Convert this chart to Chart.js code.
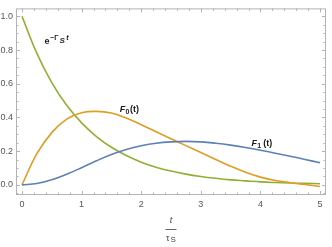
<!DOCTYPE html>
<html lang="en">
<head>
    <meta charset="UTF-8">
    <title>Decay curves</title>
    <script src="https://cdn.jsdelivr.net/npm/chart.js"></script>
    <style>
body {
    margin: 0;
    padding: 0;
    background: #ffffff;
}
.wrap {
    width: 332px;
    height: 247px;
}
    </style>
</head>
<body>
    <div class="wrap">
        <canvas id="decayPlot" width="332" height="247"></canvas>
    </div>
    <script>
        // values
        const tValues   = [0, 0.25, 0.5, 0.75, 1, 1.25, 1.5, 1.75, 2, 2.25, 2.5, 2.75, 3, 3.25, 3.5, 3.75, 4, 4.25, 4.5, 4.75, 5];
        const expDecay  = [1, 0.78, 0.607, 0.472, 0.368, 0.287, 0.223, 0.174, 0.135, 0.105, 0.082, 0.064, 0.05, 0.039, 0.03, 0.024, 0.018, 0.014, 0.011, 0.009, 0.007];
        const f0Values  = [0, 0.185, 0.31, 0.39, 0.428, 0.436, 0.426, 0.397, 0.357, 0.315, 0.274, 0.233, 0.192, 0.151, 0.111, 0.075, 0.046, 0.026, 0.013, 0.002, -0.01];
        const f1Values  = [0, 0.008, 0.03, 0.063, 0.102, 0.143, 0.18, 0.21, 0.232, 0.247, 0.255, 0.258, 0.255, 0.247, 0.236, 0.222, 0.206, 0.188, 0.17, 0.151, 0.131];

        const xTickValues = [0, 1, 2, 3, 4, 5];
        const yTickValues = [0, 0.2, 0.4, 0.6, 0.8, 1.0];

        const blue = '#5E81B5';
        const orange = '#E19C24';
        const green = '#8FB032';

        function toPoints(ys) {
            return tValues.map((t, i) => ({ x: t, y: ys[i] }));
        }

        function lineSet(label, ys, color) {
            return {
                label: label,
                data: toPoints(ys),
                borderColor: color,
                borderWidth: 1.6,
                pointRadius: 0,
                fill: false,
                tension: 0.4
            };
        }

        // frame with inward ticks, curve labels and the t/tau axis title
        const framePlugin = {
            id: 'framePlugin',
            beforeDatasetsDraw(chart) {
                const { ctx, chartArea: a, scales } = chart;
                const xs = scales.x, ys = scales.y;
                ctx.save();
                ctx.strokeStyle = '#b4b4b4';
                ctx.lineWidth = 1;
                ctx.strokeRect(a.left + 0.5, a.top + 0.5, a.right - a.left - 1, a.bottom - a.top - 1);

                ctx.beginPath();
                for (let k = 0; k <= 25; k++) {
                    const v = k * 0.2;
                    const px = Math.round(xs.getPixelForValue(v)) + 0.5;
                    const len = k % 5 === 0 ? 4 : 2.5;
                    ctx.moveTo(px, a.bottom);
                    ctx.lineTo(px, a.bottom - len);
                    ctx.moveTo(px, a.top);
                    ctx.lineTo(px, a.top + len);
                }
                for (let k = -1; k <= 20; k++) {
                    const v = k * 0.05;
                    const py = Math.round(ys.getPixelForValue(v)) + 0.5;
                    const len = k % 4 === 0 ? 4 : 2.5;
                    ctx.moveTo(a.left, py);
                    ctx.lineTo(a.left + len, py);
                    ctx.moveTo(a.right, py);
                    ctx.lineTo(a.right - len, py);
                }
                ctx.stroke();
                ctx.restore();
            },
            afterDraw(chart) {
                const { ctx, scales } = chart;
                const xs = scales.x, ys = scales.y;
                ctx.save();
                ctx.fillStyle = '#1a1a1a';
                ctx.textBaseline = 'alphabetic';

                // e^{-Γ_S t}
                let x = xs.getPixelForValue(0.38);
                let y = ys.getPixelForValue(0.835);
                ctx.font = 'bold 9px "Liberation Sans", Arial, sans-serif';
                ctx.fillText('e', x, y);
                x += ctx.measureText('e').width + 0.5;
                ctx.font = 'bold 7px "Liberation Sans", Arial, sans-serif';
                ctx.fillText('\u2212\u0393', x, y - 4);
                x += ctx.measureText('\u2212\u0393').width + 1;
                ctx.font = 'bold italic 8px "Liberation Sans", Arial, sans-serif';
                ctx.fillText('S', x, y - 1.5);
                x += ctx.measureText('S').width + 1.5;
                ctx.font = 'bold italic 7px "Liberation Sans", Arial, sans-serif';
                ctx.fillText('t', x, y - 4);

                // F_0(t) and F_1(t)
                function fLabel(tx, ty, sub, gap) {
                    let px = xs.getPixelForValue(tx);
                    const py = ys.getPixelForValue(ty);
                    ctx.font = 'bold italic 9px "Liberation Sans", Arial, sans-serif';
                    ctx.fillText('F', px, py);
                    px += ctx.measureText('F').width + 0.3;
                    ctx.font = 'bold 7px "Liberation Sans", Arial, sans-serif';
                    ctx.fillText(sub, px, py + 2);
                    px += ctx.measureText(sub).width + gap;
                    ctx.font = 'bold 9px "Liberation Sans", Arial, sans-serif';
                    ctx.fillText('(t)', px, py);
                }
                fLabel(1.64, 0.43, '0', 0.5);
                fLabel(3.85, 0.232, '1', 2);

                // axis title t / tau_S
                const cx = (chart.chartArea.left + chart.chartArea.right) / 2;
                ctx.fillStyle = '#444444';
                ctx.textAlign = 'center';
                ctx.font = 'italic 9px "Liberation Sans", Arial, sans-serif';
                ctx.fillText('t', cx, 223);
                ctx.strokeStyle = '#666666';
                ctx.lineWidth = 1;
                ctx.beginPath();
                ctx.moveTo(cx - 5.5, 229.5);
                ctx.lineTo(cx + 5.5, 229.5);
                ctx.stroke();
                ctx.textAlign = 'left';
                ctx.font = '9px "Liberation Sans", Arial, sans-serif';
                ctx.fillText('\u03C4', cx - 5, 241);
                ctx.font = '8px "Liberation Sans", Arial, sans-serif';
                ctx.fillText('S', cx - 0.5, 242);
                ctx.restore();
            }
        };

        const ctx = document.getElementById('decayPlot').getContext('2d');

        const decayPlot = new Chart(ctx, {
            type: 'line',
            data: {
                datasets: [
                    lineSet('F1', f1Values, blue),
                    lineSet('F0', f0Values, orange),
                    lineSet('exp', expDecay, green)
                ]
            },
            options: {
                responsive: false,
                animation: false,
                layout: {
                    padding: { top: 5, right: 6, left: 0, bottom: 0 }
                },
                plugins: {
                    legend: { display: false },
                    tooltip: { enabled: false }
                },
                scales: {
                    x: {
                        type: 'linear',
                        min: -0.1,
                        max: 5.1,
                        afterBuildTicks: (scale) => {
                            scale.ticks = xTickValues.map(v => ({ value: v }));
                        },
                        afterFit: (scale) => {
                            scale.height = 52;
                        },
                        ticks: {
                            autoSkip: false,
                            maxRotation: 0,
                            padding: 4,
                            color: '#555555',
                            font: { family: '"Liberation Sans", Arial, sans-serif', size: 9 },
                            callback: (v) => String(v)
                        },
                        grid: { display: false, drawTicks: false },
                        border: { display: false }
                    },
                    y: {
                        type: 'linear',
                        min: -0.06,
                        max: 1.047,
                        afterBuildTicks: (scale) => {
                            scale.ticks = yTickValues.map(v => ({ value: v }));
                        },
                        afterFit: (scale) => {
                            scale.width = 16;
                        },
                        ticks: {
                            autoSkip: false,
                            padding: 3,
                            color: '#555555',
                            font: { family: '"Liberation Sans", Arial, sans-serif', size: 9 },
                            callback: (v) => Number(v).toFixed(1)
                        },
                        grid: { display: false, drawTicks: false },
                        border: { display: false }
                    }
                }
            },
            plugins: [framePlugin]
        });
    </script>
</body>
</html>
